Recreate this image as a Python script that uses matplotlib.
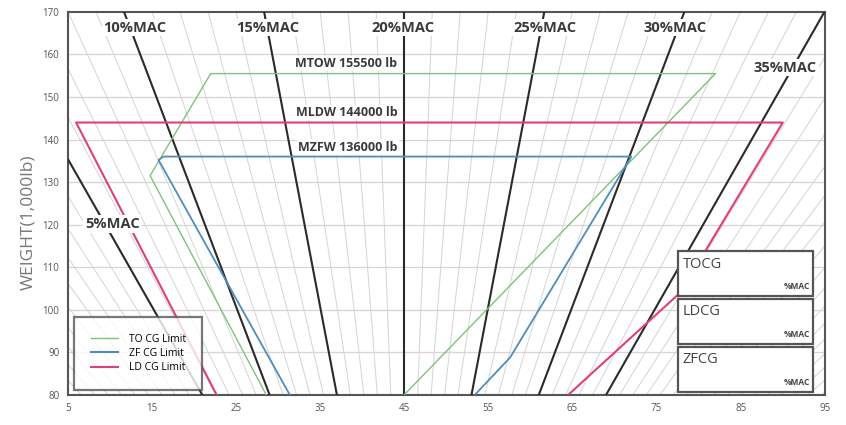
import numpy as np
import matplotlib
matplotlib.use("Agg")
import matplotlib.pyplot as plt
from matplotlib.patches import Rectangle
from matplotlib.lines import Line2D

plt.rcParams['font.family'] = ['Open Sans', 'DejaVu Sans']

# axis ranges
x_ticks = [5, 15, 25, 35, 45, 55, 65, 75, 85, 95]
y_ticks = [80, 90, 100, 110, 120, 130, 140, 150, 160, 170]

# %MAC line geometry: index = 45 + (mac - 20) * spread(weight)
ref_mac = 20
ref_index = 45
spread_w = [80, 170]          # weights where spread was read
spread_v = [1.60, 3.33]       # index units per 1 %MAC at those weights
mac_major = [5, 10, 15, 20, 25, 30, 35]
mac_minor = list(range(-6, 53))

# envelopes (index, weight in 1000 lb)
to_x = [28.6, 14.8, 22.0, 82.0, 45.0]
to_w = [80, 131.5, 155.5, 155.5, 80]
zf_x = [31.4, 15.8, 16.4, 72.0, 57.6, 53.4]
zf_w = [80, 135.2, 136, 136, 88.8, 80]
ld_x = [22.7, 6.0, 90.0, 77.8, 64.5]
ld_w = [80, 144, 144, 104, 80]

# limit labels
limit_text = ["MTOW 155500 lb", "MLDW 144000 lb", "MZFW 136000 lb"]
limit_pos = [(44.2, 157.9), (44.2, 146.4), (44.2, 138.2)]

# %MAC labels
mac_labels = ["5%MAC", "10%MAC", "15%MAC", "20%MAC", "25%MAC", "30%MAC", "35%MAC"]
mac_label_pos = [(10.3, 120.2), (13.0, 166.3), (28.8, 166.3), (44.8, 166.3),
                 (61.7, 166.3), (77.2, 166.3), (90.3, 156.9)]

green = '#7cc47c'
blue = '#4f8dbf'
pink = '#e0407a'


def mac_index(mac, w):
    # spread grows linearly with weight
    slope = (spread_v[1] - spread_v[0]) / (spread_w[1] - spread_w[0])
    k = spread_v[0] + slope * (w - spread_w[0])
    return ref_index + (mac - ref_mac) * k


fig = plt.figure(figsize=(8.46, 4.25), dpi=100)
ax = fig.add_axes([0.080, 0.071, 0.895, 0.901])
ax.set_xlim(5, 95)
ax.set_ylim(80, 170)

w = np.array([80.0, 170.0])

# horizontal grid
for y in y_ticks[1:-1]:
    ax.axhline(y, color='#ddd3d6', lw=0.9, zorder=1)

# thin 1% lines
for m in mac_minor:
    ax.plot(mac_index(m, w), w, color='#d4d4d4', lw=0.7, zorder=1)

# major %MAC lines
for m in mac_major:
    ax.plot(mac_index(m, w), w, color='#2b2b2b', lw=1.5, zorder=3)

# envelopes
ax.plot(to_x, to_w, color=green, lw=1.0, zorder=4)
ax.plot(zf_x, zf_w, color=blue, lw=1.3, zorder=4)
ax.plot(ld_x, ld_w, color=pink, lw=1.5, zorder=4)

for t, (x, y) in zip(limit_text, limit_pos):
    ax.text(x, y, t, ha='right', va='center', fontsize=9, fontweight='bold',
            color='#3a3a3a', zorder=6,
            bbox=dict(boxstyle='square,pad=0.1', fc='white', ec='none'))

for t, (x, y) in zip(mac_labels, mac_label_pos):
    ax.text(x, y, t, ha='center', va='center', fontsize=10.5, fontweight='bold',
            color='#3a3a3a', zorder=6,
            bbox=dict(boxstyle='square,pad=0.12', fc='white', ec='none'))

# CG boxes on the right
box_names = ["TOCG", "LDCG", "ZFCG"]
box_bottoms = [0.258, 0.133, 0.008]
box_h = 0.117
for name, b in zip(box_names, box_bottoms):
    ax.add_patch(Rectangle((0.806, b), 0.178, box_h, transform=ax.transAxes,
                           fc='white', ec='#555555', lw=1.6, zorder=7))
    ax.text(0.812, b + box_h - 0.014, name, transform=ax.transAxes,
            ha='left', va='top', fontsize=10.5, color='#444444', zorder=8)
    ax.text(0.980, b + 0.012, "%MAC", transform=ax.transAxes,
            ha='right', va='bottom', fontsize=6, fontweight='bold',
            color='#444444', zorder=8)

handles = [Line2D([], [], color=green, lw=1.0),
           Line2D([], [], color=blue, lw=1.5),
           Line2D([], [], color=pink, lw=1.5)]
leg = ax.legend(handles, ["TO CG Limit", "ZF CG Limit", "LD CG Limit"],
                loc='lower left', bbox_to_anchor=(0.009, 0.013),
                fontsize=7.5, frameon=True, fancybox=False,
                borderpad=1.6, handlelength=2.6, handletextpad=1.0,
                labelspacing=0.3, borderaxespad=0)
leg.get_frame().set_edgecolor('#555555')
leg.get_frame().set_linewidth(1.6)
leg.set_zorder(9)

ax.set_xticks(x_ticks)
ax.set_yticks(y_ticks)
ax.tick_params(labelsize=7, colors='#555555', length=0, pad=6)
ax.set_ylabel("WEIGHT(1,000lb)", fontsize=12.5, color='#777777')
ax.yaxis.set_label_coords(-0.042, 0.45)
for s in ax.spines.values():
    s.set_color('#555555')
    s.set_linewidth(1.5)

fig.savefig("out.png", dpi=100)
